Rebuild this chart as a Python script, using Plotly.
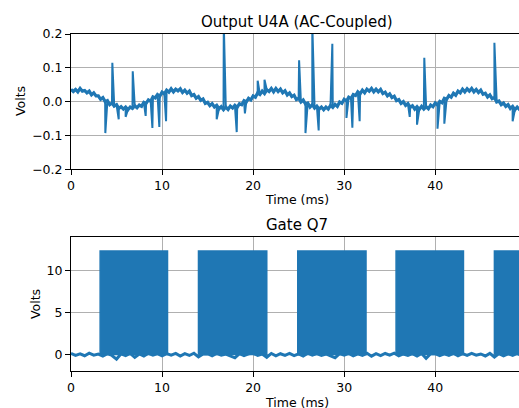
import numpy as np
import plotly.graph_objects as go

# ---------------- data ----------------
u4a_dt = 0.25
u4a_values = [
    0.036, 0.030, 0.036, 0.029, 0.039, 0.031, 0.033, 0.026,
    0.031, 0.020, 0.026, 0.017, 0.017, 0.007, 0.012, 0.000,
    0.003, -0.009, -0.004, -0.013, -0.009, -0.020, -0.015, -0.022,
    -0.016, -0.024, -0.016, -0.020, -0.012, -0.018, -0.010, -0.014,
    -0.002, -0.005, 0.005, 0.001, 0.014, 0.011, 0.021, 0.016,
    0.028, 0.023, 0.034, 0.028, 0.038, 0.029, 0.037, 0.032,
    0.038, 0.027, 0.034, 0.025, 0.031, 0.018, 0.021, 0.010,
    0.015, 0.004, 0.008, -0.005, -0.002, -0.012, -0.006, -0.016,
    -0.011, -0.021, -0.015, -0.024, -0.016, -0.023, -0.013, -0.019,
    -0.011, -0.017, -0.006, -0.009, 0.003, -0.001, 0.010, 0.005,
    0.017, 0.013, 0.026, 0.021, 0.031, 0.024, 0.035, 0.030,
    0.039, 0.029, 0.039, 0.030, 0.037, 0.026, 0.032, 0.020,
    0.026, 0.015, 0.019, 0.006, 0.010, -0.001, 0.005, -0.007,
    -0.004, -0.016, -0.009, -0.019, -0.013, -0.022, -0.016, -0.024,
    -0.016, -0.022, -0.011, -0.017, -0.008, -0.014, -0.001, -0.005,
    0.007, 0.002, 0.013, 0.009, 0.021, 0.018, 0.029, 0.023,
    0.034, 0.026, 0.037, 0.031, 0.039, 0.029, 0.037, 0.029,
    0.036, 0.024, 0.028, 0.017, 0.023, 0.012, 0.016, 0.003,
    0.006, -0.005, 0.000, -0.011, -0.006, -0.017, -0.012, -0.022,
    -0.015, -0.023, -0.014, -0.022, -0.015, -0.021, -0.010, -0.015,
    -0.004, -0.010, 0.001, -0.003, 0.010, 0.007, 0.018, 0.013,
    0.025, 0.019, 0.031, 0.026, 0.037, 0.029, 0.038, 0.031,
    0.039, 0.029, 0.036, 0.027, 0.034, 0.022, 0.025, 0.014,
    0.020, 0.009, 0.012, -0.001, 0.002, -0.009, -0.004, -0.014,
    -0.009, -0.020, -0.014, -0.024, -0.016, -0.023, -0.014, -0.023,
]
# glitch spikes (time in ms, peak volts)
spike_times = [3.77, 4.54, 5.24, 6.0, 6.78, 8.2, 8.94, 9.7, 10.44, 16.0,
               16.78, 18.2, 19.1, 20.5, 21.25, 25.05, 25.75, 26.5, 27.2, 28.7,
               30.25, 30.9, 31.7, 37.2, 38.0, 38.8, 40.25, 41.0, 46.5, 48.5]
spike_peaks = [-0.093, 0.115, -0.052, -0.045, 0.090, -0.042, -0.078, -0.075, -0.058, -0.052,
               0.230, -0.090, -0.035, 0.062, 0.065, 0.122, -0.093, 0.230, -0.085, 0.171,
               -0.048, -0.077, -0.058, -0.045, -0.068, 0.130, -0.080, -0.065, 0.174, -0.058]

# Gate Q7: low-level samples every 0.5 ms, plus switching bursts
gate_dt = 0.5
gate_low = [
    0.12, -0.10, 0.08, -0.15, 0.15, -0.08, 0.05, -0.18, 0.10, -0.12,
    -0.55, 0.08, -0.14, 0.12, -0.35, 0.06, -0.20, 0.14, -0.09, 0.10,
    -0.16, 0.11, -0.07, 0.13, -0.19, 0.09, -0.12, 0.15, -0.28, 0.07,
    0.10, -0.15, 0.12, -0.09, 0.05, -0.18, -0.40, 0.11, -0.13, 0.08,
    0.14, -0.11, 0.06, -0.33, 0.12, -0.16, 0.09, -0.10, 0.13, -0.14,
    0.08, -0.19, 0.15, -0.07, 0.11, -0.12, 0.06, -0.17, -0.38, 0.10,
    -0.09, 0.13, -0.15, 0.07, -0.11, 0.14, -0.20, 0.09, -0.13, 0.12,
    -0.08, 0.15, -0.16, 0.06, -0.12, 0.10, -0.18, 0.13, -0.45, 0.08,
    0.11, -0.14, 0.07, -0.10, 0.14, -0.17, 0.09, -0.12, 0.12, -0.09,
    0.06, -0.18, 0.13, -0.30, 0.10, -0.15, 0.08, -0.11, 0.14, -0.13,
]
burst_start = [3.2, 14.0, 24.9, 35.7, 46.5]
burst_end = [10.6, 21.5, 32.4, 43.1, 49.8]
gate_high = 12.3

x_ticks = [0, 10, 20, 30, 40]
u4a_yticks = [-0.2, -0.1, 0.0, 0.1, 0.2]
gate_yticks = [0, 5, 10]

# ---------------- build traces ----------------
BLUE = "#1f77b4"
u4a_t = [i * u4a_dt for i in range(len(u4a_values))]
pts = list(zip(u4a_t, u4a_values)) + list(zip(spike_times, spike_peaks))
pts.sort(key=lambda p: p[0])
ux = [p[0] for p in pts]
uy = [p[1] for p in pts]

gate_t = [i * gate_dt for i in range(len(gate_low))]
bx, by = [], []
for s, e in zip(burst_start, burst_end):
    bx += [s, s, e, e, s, None]
    by += [0, gate_high, gate_high, 0, 0, None]

fig = go.Figure()
fig.add_trace(go.Scatter(x=ux, y=uy, mode="lines", line=dict(color=BLUE, width=2),
                         xaxis="x", yaxis="y", showlegend=False, hoverinfo="skip"))
fig.add_trace(go.Scatter(x=u4a_t, y=u4a_values, mode="lines", line=dict(color=BLUE, width=3.2),
                         xaxis="x", yaxis="y", showlegend=False))
fig.add_trace(go.Scatter(x=gate_t, y=gate_low, mode="lines", line=dict(color=BLUE, width=3),
                         xaxis="x2", yaxis="y2", showlegend=False))
fig.add_trace(go.Scatter(x=bx, y=by, mode="lines", fill="toself", fillcolor=BLUE,
                         line=dict(color=BLUE, width=1.5),
                         xaxis="x2", yaxis="y2", showlegend=False))

W, H = 519, 408
L = 71
def px(p):
    return p / W
def py(p):
    return 1 - p / H

axis_common = dict(
    showline=True, linecolor="black", linewidth=1,
    ticks="outside", ticklen=5, tickwidth=1, tickcolor="black",
    showgrid=True, gridcolor="#b0b0b0", gridwidth=1, zeroline=False,
    automargin=False,
    tickfont=dict(family="DejaVu Sans", size=12.5, color="black"),
)

fig.update_layout(
    width=W, height=H,
    margin=dict(l=0, r=0, t=0, b=0),
    paper_bgcolor="white", plot_bgcolor="white",
    xaxis=dict(domain=[L / W, 1], range=[0, 49.2], tickvals=x_ticks, mirror=True,
               anchor="y", **axis_common),
    yaxis=dict(domain=[py(169.3), py(34)], range=[-0.2, 0.2], tickvals=u4a_yticks,
               tickformat=".1f", anchor="x", **axis_common),
    xaxis2=dict(domain=[L / W, 1], range=[0, 49.2], tickvals=x_ticks, mirror=True,
                anchor="y2", **axis_common),
    yaxis2=dict(domain=[py(371.3), py(236.7)], range=[-2, 14], tickvals=gate_yticks,
                anchor="x2", **axis_common),
)

def ann(text, xpx, ypx, size, angle=0):
    fig.add_annotation(text=text, x=px(xpx), y=py(ypx), xref="paper", yref="paper",
                       showarrow=False, textangle=angle, xanchor="center", yanchor="middle",
                       font=dict(family="DejaVu Sans", size=size, color="black"))

ann("Output U4A (AC-Coupled)", 296.5, 22, 15)
ann("Gate Q7", 296.5, 225, 15)
ann("Time (ms)", 296.5, 199.5, 12.5)
ann("Time (ms)", 296.5, 402.5, 12.5)
ann("Volts", 20, 101, 12.5, -90)
ann("Volts", 35, 304, 12.5, -90)

fig.write_html(
    "out.html",
    config={"displayModeBar": False},
    post_script="document.body.style.margin='0';document.body.style.overflow='hidden';",
)
